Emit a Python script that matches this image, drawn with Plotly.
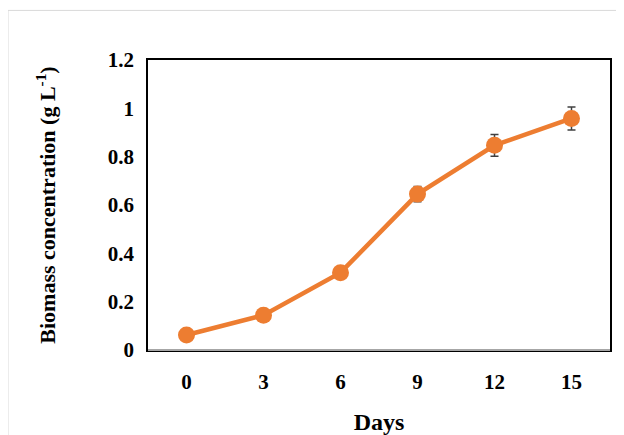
import plotly.graph_objects as go

days = ["0", "3", "6", "9", "12", "15"]
biomass = [0.062, 0.144, 0.320, 0.645, 0.847, 0.958]
biomass_err = [0.0, 0.0, 0.0, 0.032, 0.045, 0.048]

orange = "#ED7D31"
tick_font = dict(family="Liberation Serif", size=21, color="black", weight="bold")

fig = go.Figure()
fig.add_trace(go.Scatter(
    x=days, y=biomass, mode="lines+markers",
    line=dict(color=orange, width=4.5),
    marker=dict(color=orange, size=17),
    error_y=dict(type="data", array=biomass_err, visible=True,
                 color="#404040", thickness=1.5, width=4),
))

fig.update_layout(
    width=624, height=435,
    margin=dict(l=140, r=22, t=52, b=91),
    paper_bgcolor="white", plot_bgcolor="white",
    showlegend=False,
    xaxis=dict(
        type="category", range=[-0.5, 5.5],
        showgrid=False, showline=True, mirror=True, linecolor="black", linewidth=1.5,
        ticks="", tickfont=tick_font, ticklabelstandoff=12,
        title=dict(text="<b>Days</b>", standoff=20,
                   font=dict(family="Liberation Serif", size=24, color="black")),
    ),
    yaxis=dict(
        range=[0, 1.2], dtick=0.2, showgrid=False,
        showline=True, mirror=True, linecolor="black", linewidth=1.5,
        zeroline=False, ticks="", tickfont=tick_font, tickformat="~g",
        ticklabelstandoff=8,
        title=dict(text="<b>Biomass concentration (g L<sup>-1</sup>)</b>", standoff=46,
                   font=dict(family="Liberation Serif", size=22, color="black")),
    ),
    shapes=[
        # gray bottom axis line over the black frame
        dict(type="line", xref="paper", yref="paper", x0=0, x1=1, y0=0, y1=0,
             line=dict(color="#A6A6A6", width=2)),
        # outer figure border
        dict(type="line", xref="paper", yref="paper", x0=-0.303, x1=1.1, y0=1.171, y1=1.171,
             line=dict(color="#D9D9D9", width=1)),
        dict(type="line", xref="paper", yref="paper", x0=-0.303, x1=-0.303, y0=-0.35, y1=1.171,
             line=dict(color="#D9D9D9", width=1)),
    ],
)

fig.write_html("out.html")
